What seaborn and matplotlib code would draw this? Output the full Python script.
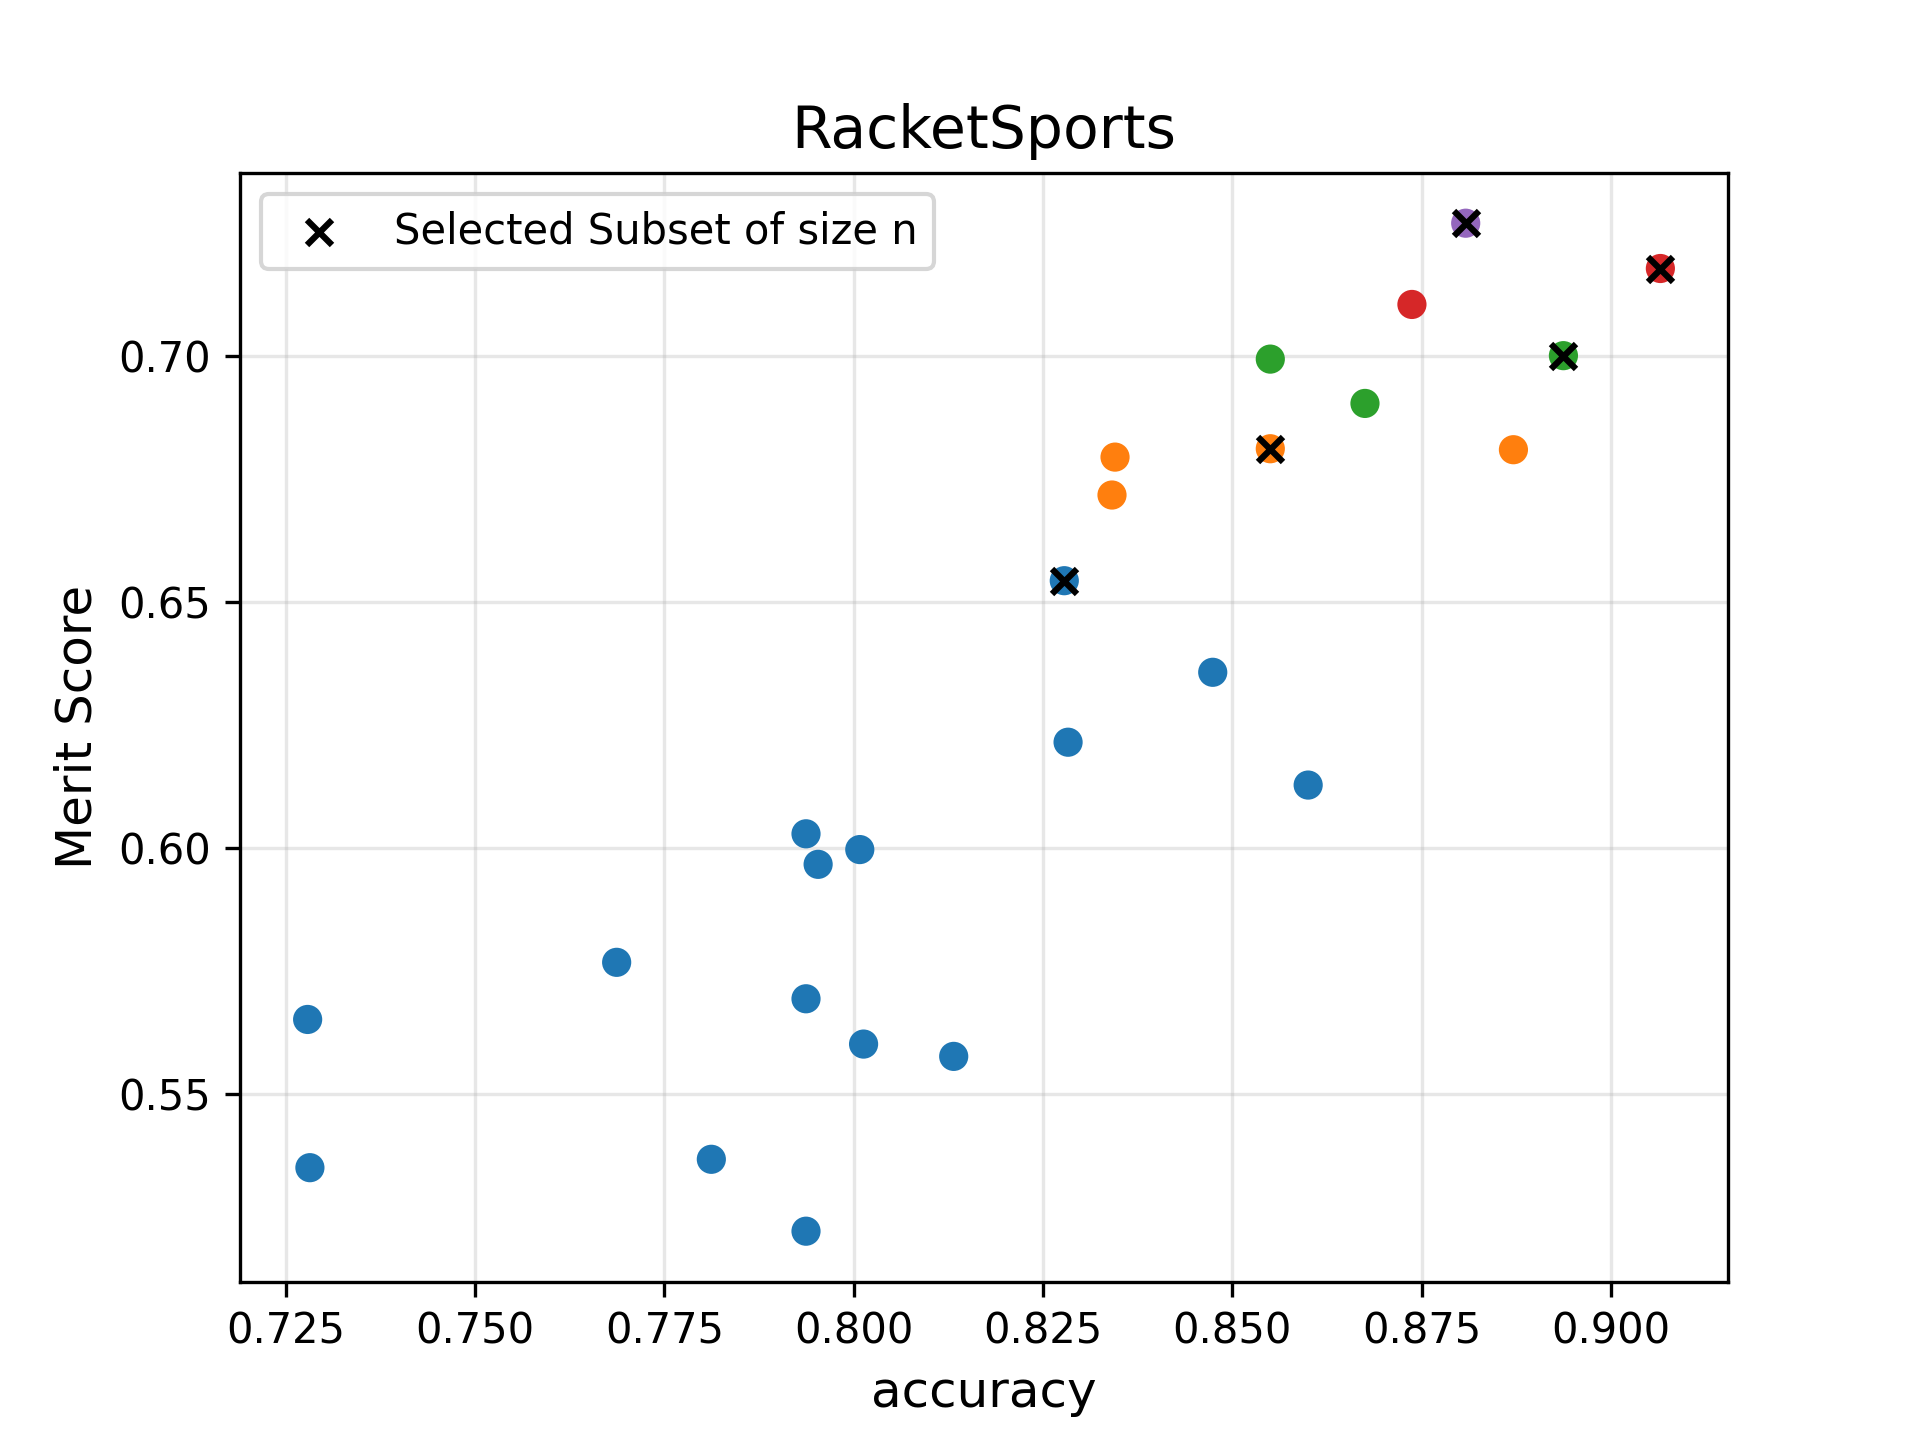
import matplotlib
matplotlib.use("Agg")
import matplotlib.pyplot as plt
import pandas as pd
import seaborn as sns

# subset size n for each evaluated subset, with its accuracy and merit
size_n = [1] * 15 + [2] * 4 + [3] * 3 + [4] * 2 + [5]
accuracy = [0.7279, 0.7282, 0.7687, 0.7812, 0.7937, 0.7953, 0.8008, 0.7937,
            0.8013, 0.8132, 0.7937, 0.8283, 0.8278, 0.8474, 0.8600,
            0.8345, 0.8341, 0.8550, 0.8871,
            0.8550, 0.8675, 0.8937,
            0.8737, 0.9065,
            0.8808]
merit = [0.5652, 0.5351, 0.5768, 0.5368, 0.6029, 0.5967, 0.5997, 0.5694,
         0.5602, 0.5577, 0.5222, 0.6215, 0.6543, 0.6357, 0.6128,
         0.6794, 0.6717, 0.6811, 0.6809,
         0.6993, 0.6903, 0.7000,
         0.7104, 0.7177,
         0.7269]

# best subset per size
sel_accuracy = [0.8278, 0.8550, 0.8937, 0.9065, 0.8808]
sel_merit = [0.6543, 0.6811, 0.7000, 0.7177, 0.7269]

df = pd.DataFrame({"accuracy": accuracy, "merit": merit, "n": size_n})
sel = pd.DataFrame({"accuracy": sel_accuracy, "merit": sel_merit})

fig, ax = plt.subplots(figsize=(6.4, 4.8), dpi=300)
sns.scatterplot(data=df, x="accuracy", y="merit", hue="n",
                palette=sns.color_palette("tab10", 5), legend=False,
                s=36, edgecolor="face", linewidth=1, ax=ax, zorder=2)
sns.scatterplot(data=sel, x="accuracy", y="merit", marker="x", color="black",
                s=36, linewidth=1.5, label="Selected Subset of size n",
                ax=ax, zorder=3)

ax.grid(alpha=0.3, zorder=0)
ax.set_axisbelow(True)
ax.set_title("RacketSports", fontsize=14)
ax.set_xlabel("accuracy", fontsize=12)
ax.set_ylabel("Merit Score", fontsize=12)
ax.legend(loc="upper left")

fig.savefig("out.png", dpi=300)
